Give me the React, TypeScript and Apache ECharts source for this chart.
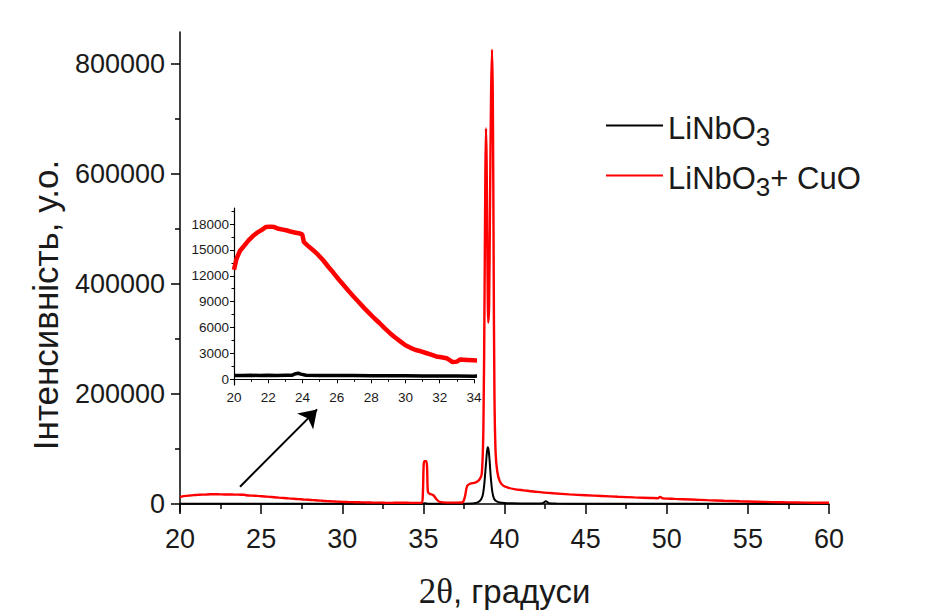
import React, { useEffect, useRef } from "react";
import * as echarts from "echarts";

// LiNbO3 pattern: 2θ (degrees) and intensity (counts)
const pureTheta = [
  20, 20.5, 21, 21.5, 22, 22.5, 23, 23.4, 23.6, 23.75, 23.9, 24.2, 25, 26, 27, 28, 29, 30, 31, 32, 33, 34,
  34.9, 35.1, 35.3, 36, 37, 38, 38.3, 38.5, 38.65, 38.75, 38.85, 38.92, 38.97, 39.02, 39.08, 39.15, 39.25,
  39.35, 39.5, 39.7, 40, 40.5, 41, 42, 42.35, 42.55, 42.75, 43.2, 45, 50, 55, 60,
];
const pureCounts = [
  450, 440, 460, 450, 460, 450, 470, 480, 650, 700, 600, 470, 450, 440, 430, 420, 410, 400, 390, 380, 370, 360,
  500, 1500, 600, 500, 600, 900, 2500, 6000, 15000, 35000, 70000, 95000, 103000, 98000, 80000, 50000, 22000,
  10000, 5000, 2800, 1800, 1200, 1000, 900, 1500, 5000, 1500, 800, 600, 500, 400, 350,
];

// LiNbO3 + CuO pattern
const dopedTheta = [
  20, 20.15, 20.35, 20.6, 20.85, 21.1, 21.35, 21.6, 21.85, 22.1, 22.35, 22.6, 22.85, 23.1, 23.35, 23.6, 23.85,
  23.98, 24.08, 24.3, 24.6, 24.9, 25.2, 25.5, 25.8, 26.1, 26.4, 26.7, 27, 27.3, 27.6, 27.9, 28.2, 28.5, 28.8,
  29.1, 29.4, 29.7, 30, 30.3, 30.6, 30.9, 31.2, 31.5, 31.8, 32.1, 32.4, 32.6, 32.75, 33, 33.2, 33.6, 34, 34.5,
  34.9, 34.97, 35.02, 35.08, 35.18, 35.23, 35.28, 35.4, 35.6, 35.8, 36, 36.5, 37, 37.4, 37.55, 37.7, 37.9,
  38.2, 38.45, 38.6, 38.7, 38.77, 38.82, 38.86, 38.9, 38.95, 39, 39.05, 39.1, 39.17, 39.23, 39.28, 39.33,
  39.38, 39.45, 39.55, 39.7, 39.9, 40.2, 40.6, 41.2, 42, 43, 44, 45, 46, 47, 48, 49, 49.45, 49.6, 49.75, 50.5,
  51.5, 52.5, 53.5, 54.5, 55.5, 56.5, 57.5, 58.5, 60,
];
const dopedCounts = [
  12700, 14000, 14900, 15500, 16100, 16600, 17000, 17300, 17650, 17700, 17650, 17450, 17350, 17250, 17100,
  17000, 16900, 16800, 15900, 15500, 15000, 14450, 13800, 13050, 12350, 11600, 10900, 10200, 9550, 8900, 8250,
  7650, 7050, 6500, 5900, 5350, 4850, 4400, 3950, 3650, 3400, 3250, 3050, 2850, 2650, 2550, 2450, 2200, 2000,
  2050, 2300, 2250, 2200, 2150, 2300, 20000, 72000, 78000, 78000, 65000, 22000, 18500, 16500, 9000, 4000, 2600,
  2500, 2800, 12000, 33000, 37000, 39000, 44000, 55000, 140000, 380000, 600000, 683000, 620000, 430000, 330000,
  360000, 520000, 740000, 826000, 740000, 450000, 200000, 95000, 60000, 42000, 34000, 30000, 27000, 24800,
  22000, 19500, 17500, 16000, 14600, 13200, 12000, 11000, 10600, 13000, 10300, 9300, 8200, 7000, 5900, 5000,
  4200, 3500, 3000, 2600, 2200,
];

// Axis ticks
const mainYTicks = [0, 200000, 400000, 600000, 800000];
const mainYMinorTicks = [100000, 300000, 500000, 700000];
const insetYTicks = [0, 3000, 6000, 9000, 12000, 15000, 18000];
const insetYMinorTicks = [1500, 4500, 7500, 10500, 13500, 16500, 19500];

// Arrow pointing from the 20–34° background hump to the zoomed panel
const arrowTail = [23.7, 31500];
const arrowHead = [28.45, 172000];

const PURE = "LiNbO3";
const DOPED = "LiNbO3+ CuO";
const Y_TITLE = "Інтенсивність, у.о.";

const zip = (xs: number[], ys: number[]) => xs.map((x, i) => [x, ys[i]]);
const plain = (v: number) => String(v);

const SANS = "'Liberation Sans', Arial, sans-serif";
const SERIF = "'Liberation Serif', 'Times New Roman', serif";
const INK = "#1a1a1a";

export default function App() {
  const ref = useRef<HTMLDivElement>(null);

  useEffect(() => {
    if (!ref.current) return;
    const chart = echarts.init(ref.current, undefined, { renderer: "svg" });

    const pure = zip(pureTheta, pureCounts);
    const doped = zip(dopedTheta, dopedCounts);

    const axisLine = { show: true, lineStyle: { color: "#000", width: 1.5 } };

    chart.setOption({
      animation: false,
      backgroundColor: "#fff",
      grid: [
        { left: 180, top: 32, width: 649, height: 480 },
        { left: 234, top: 208, width: 240, height: 177 },
      ],
      graphic: [
        {
          type: "text",
          x: 45,
          y: 305,
          rotation: Math.PI / 2,
          silent: true,
          style: {
            text: Y_TITLE,
            fontFamily: SANS,
            fontSize: 35,
            fill: INK,
            align: "center",
            verticalAlign: "middle",
          },
        },
      ],
      legend: {
        data: [PURE, DOPED],
        orient: "vertical",
        left: 606,
        top: 109,
        padding: 0,
        itemGap: 9,
        itemWidth: 57,
        itemHeight: 2,
        icon: "rect",
        selectedMode: false,
        formatter: (name: string) =>
          name === PURE ? "{n|LiNbO}{s|3}" : "{n|LiNbO}{s|3}{n|+ CuO}",
        textStyle: {
          fontFamily: SANS,
          color: INK,
          fontSize: 31,
          rich: {
            n: { fontFamily: SANS, fontSize: 31, lineHeight: 33, verticalAlign: "top", padding: [4, 0, 0, 0], color: INK },
            s: { fontFamily: SANS, fontSize: 26, lineHeight: 27, verticalAlign: "top", padding: [15, 0, 0, 0], color: INK },
          },
        },
      },
      xAxis: [
        {
          type: "value",
          gridIndex: 0,
          min: 20,
          max: 60,
          interval: 5,
          axisLine,
          axisTick: { show: true, inside: false, length: 10, lineStyle: { color: "#000", width: 1.5 } },
          minorTick: { show: true, splitNumber: 2, length: 5, lineStyle: { color: "#000", width: 1.5 } },
          splitLine: { show: false },
          axisLabel: { fontFamily: SANS, fontSize: 27, color: INK, margin: 13, formatter: plain },
          name: "{t|2θ}, градуси",
          nameLocation: "middle",
          nameGap: 62,
          nameTextStyle: {
            fontFamily: SANS,
            fontSize: 33,
            color: INK,
            rich: { t: { fontFamily: SERIF, fontSize: 35, color: INK } },
          },
        },
        {
          type: "value",
          gridIndex: 1,
          min: 20,
          max: 34,
          interval: 2,
          axisLine: { show: true, lineStyle: { color: "#000", width: 1.2 } },
          axisTick: { show: true, length: 4, lineStyle: { color: "#000", width: 1 } },
          minorTick: { show: true, splitNumber: 2, length: 2.5, lineStyle: { color: "#000", width: 1 } },
          splitLine: { show: false },
          axisLabel: { fontFamily: SANS, fontSize: 13.5, color: INK, margin: 5, formatter: plain },
        },
      ],
      yAxis: [
        {
          type: "value",
          gridIndex: 0,
          position: "left",
          min: -14500,
          max: 858000,
          axisLine,
          axisTick: { show: true, length: 9, customValues: mainYTicks, lineStyle: { color: "#000", width: 1.5 } },
          splitLine: { show: false },
          axisLabel: { fontFamily: SANS, fontSize: 27, color: INK, margin: 15, customValues: mainYTicks, formatter: plain },
        },
        {
          type: "value",
          gridIndex: 0,
          position: "left",
          min: -14500,
          max: 858000,
          axisLine: { show: false },
          axisTick: { show: true, length: 5, customValues: mainYMinorTicks, lineStyle: { color: "#000", width: 1.5 } },
          axisLabel: { show: false },
          splitLine: { show: false },
        },
        {
          type: "value",
          gridIndex: 1,
          position: "left",
          min: -660,
          max: 19860,
          axisLine: { show: true, lineStyle: { color: "#000", width: 1.2 } },
          axisTick: { show: true, length: 4, customValues: insetYTicks, lineStyle: { color: "#000", width: 1 } },
          splitLine: { show: false },
          axisLabel: { fontFamily: SANS, fontSize: 13.5, color: INK, margin: 5, customValues: insetYTicks, formatter: plain },
        },
        {
          type: "value",
          gridIndex: 1,
          position: "left",
          min: -660,
          max: 19860,
          axisLine: { show: false },
          axisTick: { show: true, length: 2.5, customValues: insetYMinorTicks, lineStyle: { color: "#000", width: 1 } },
          axisLabel: { show: false },
          splitLine: { show: false },
        },
      ],
      series: [
        {
          name: PURE,
          type: "line",
          xAxisIndex: 0,
          yAxisIndex: 0,
          data: pure,
          symbol: "none",
          smooth: 0.3,
          lineStyle: { color: "#000", width: 2 },
          itemStyle: { color: "#000" },
          markLine: {
            silent: true,
            symbol: ["none", "arrow"],
            symbolSize: 17,
            lineStyle: { color: "#000", width: 2, type: "solid" },
            label: { show: false },
            emphasis: { disabled: true },
            data: [[{ coord: arrowTail }, { coord: arrowHead }]],
          },
        },
        {
          name: DOPED,
          type: "line",
          xAxisIndex: 0,
          yAxisIndex: 0,
          data: doped,
          symbol: "none",
          smooth: 0.3,
          lineStyle: { color: "#ff0000", width: 2.4 },
          itemStyle: { color: "#ff0000" },
        },
        {
          name: PURE,
          type: "line",
          xAxisIndex: 1,
          yAxisIndex: 2,
          data: pure,
          symbol: "none",
          clip: true,
          lineStyle: { color: "#000", width: 3.5 },
          itemStyle: { color: "#000" },
        },
        {
          name: DOPED,
          type: "line",
          xAxisIndex: 1,
          yAxisIndex: 2,
          data: doped,
          symbol: "none",
          clip: true,
          lineStyle: { color: "#ff0000", width: 4.5 },
          itemStyle: { color: "#ff0000" },
        },
      ],
    });

    return () => chart.dispose();
  }, []);

  return (
    <div
      ref={ref}
      style={{ position: "absolute", left: 0, top: 0, width: 952, height: 615, background: "#fff" }}
    />
  );
}
